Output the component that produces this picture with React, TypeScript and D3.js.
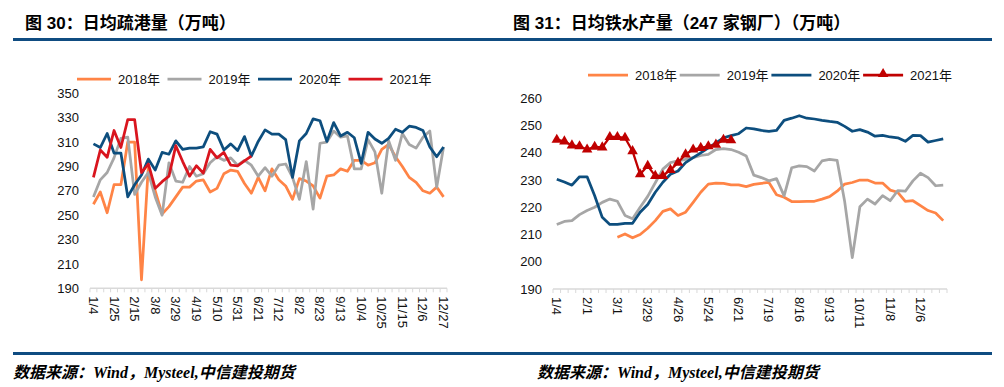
import React, { useEffect, useRef } from 'react';
import * as d3 from 'd3';

// weekly categories (2021 calendar)
const weeks = ['1/4','1/11','1/18','1/25','2/1','2/8','2/15','2/22','3/1','3/8','3/15','3/22','3/29','4/5','4/12','4/19','4/26','5/3','5/10','5/17','5/24','5/31','6/7','6/14','6/21','6/28','7/5','7/12','7/19','7/26','8/2','8/9','8/16','8/23','8/30','9/6','9/13','9/20','9/27','10/4','10/11','10/18','10/25','11/1','11/8','11/15','11/22','11/29','12/6','12/13','12/20','12/27'];

const portTickLabels = ['1/4','1/25','2/15','3/8','3/29','4/19','5/10','5/31','6/21','7/12','8/2','8/23','9/13','10/4','10/25','11/15','12/6','12/27'];
const ironTickLabels = ['1/4','2/1','3/1','3/29','4/26','5/24','6/21','7/19','8/16','9/13','10/11','11/8','12/6'];

const portYTicks = [190, 210, 230, 250, 270, 290, 310, 330, 350];
const ironYTicks = [190, 200, 210, 220, 230, 240, 250, 260];

const seriesNames = ['2018年', '2019年', '2020年', '2021年'];

// 图30 日均疏港量
const port2018 = [259,269,252,275,275,310,310,197,290,270,251,257,265,273,273,278,279,269,272,284,287,286,276,268,281,270,288,279,274,263,280,278,274,264,282,283,288,286,295,295,291,293,304,308,298,290,281,277,270,268,273,265];
const port2019 = [265,279,285,297,313,314,267,277,285,265,250,293,278,277,290,282,284,293,298,295,297,291,295,291,282,289,282,291,292,281,263,294,255,309,310,319,314,315,288,288,312,302,268,311,295,317,308,305,314,319,273,306];
const port2020 = [308.5,305.5,317,301,301,265,275,283,296,287,301.5,300,311,304,305,305,306,318.5,316.5,303.5,308.5,303,314.5,298.5,310.5,320,316.5,316.5,312,281,311,317,329,327.5,310.5,326,315,318,313.5,292.5,318,312.5,309,313,320.5,318,323,322,319.5,306,298,306];
const port2021 = [281,303.5,297.5,319.5,305.5,328.5,328.5,285,292,272,277.5,282,307,294,282,290.5,284.5,304,297,301.5,291,290.5,294.5,298.5];

// 图31 日均铁水产量（247家钢厂）
const iron2018 = [null,null,null,null,null,null,null,null,209,210.2,208.8,210,212.3,215.1,218.5,219.4,217,218.2,221.8,225.5,228.5,228.9,228.8,228.2,228.2,227.6,228.4,228.8,229.1,224.6,223.7,222.1,222.1,222.2,222.2,223,223.9,225.9,228.5,229.1,230,230,228.9,228.9,226.3,225.5,222.2,222.4,220.6,218.8,217.9,215.1];
const iron2019 = [213.7,214.8,215.1,217.3,218.8,220,221.8,223,222.2,217,215.8,220,224,229,234,236.4,237,237.6,238.2,239,239.4,241.2,241.5,241.2,240.2,238.8,231.8,230.9,229.7,230.5,224.2,234.5,235.2,234.9,233.3,237,237.6,237.2,222,201.5,220.2,223,221.2,224.3,222.4,226.1,225.9,229.7,232.5,230.9,227.9,228.1];
const iron2020 = [230.3,229.3,228.1,231.2,231.2,224.2,216.3,213.7,213.7,214.1,214.1,218.2,221,225.5,229.2,232.1,233.3,236.4,238.2,240,241.8,243.6,245.5,246.3,247,249.1,248.8,248.2,247.9,248.2,251.9,252.7,253.6,252.7,252.4,251.9,251.5,251.2,249.7,247.9,248.5,247.6,246.1,246.4,245.8,245.5,244.2,246.4,246.3,243.9,244.5,245.1];
const iron2021 = [244.8,244.2,242.7,242.4,241.2,242.2,242,245.8,245.8,245.5,240.6,232.1,235.2,231.5,231.5,233.7,236.4,239.4,241.2,241.8,242.4,243,244.8,244.6];

const FONT = '"Liberation Sans", Arial, "Noto Sans CJK SC", sans-serif';
const ORANGE = '#FF8446';
const GRAY = '#A6A6A6';
const BLUE = '#0D4E7E';

const charts = [
  {
    title: '图 30：日均疏港量（万吨）',
    titleX: 25,
    left: 90, right: 447, top: 93.3, bottom: 288.3,
    yDomain: [190, 350], yTicks: portYTicks, xTicks: portTickLabels,
    legendX: 77, legendY: 79, legendStep: 90.5, legendLine: 34,
    series: [
      { data: port2018, color: ORANGE },
      { data: port2019, color: GRAY },
      { data: port2020, color: BLUE },
      { data: port2021, color: '#D9151E' },
    ],
    markers: false,
    footerX: 13,
  },
  {
    title: '图 31：日均铁水产量（247 家钢厂）（万吨）',
    titleX: 513,
    left: 553, right: 947, top: 98.3, bottom: 289,
    yDomain: [190, 260], yTicks: ironYTicks, xTicks: ironTickLabels,
    legendX: 588, legendY: 75, legendStep: 91.7, legendLine: 40,
    series: [
      { data: iron2018, color: ORANGE },
      { data: iron2019, color: GRAY },
      { data: iron2020, color: BLUE },
      { data: iron2021, color: '#C00000' },
    ],
    markers: true,
    footerX: 537,
  },
];

const App = () => {
  const svgRef = useRef(null);

  useEffect(() => {
    const svg = d3.select(svgRef.current);
    svg.selectAll('*').remove();

    // header / footer rules
    svg.append('line').attr('x1', 13).attr('x2', 992).attr('y1', 39.5).attr('y2', 39.5)
      .attr('stroke', '#0F4C81').attr('stroke-width', 3);
    svg.append('line').attr('x1', 13).attr('x2', 992).attr('y1', 353.5).attr('y2', 353.5)
      .attr('stroke', '#0F4C81').attr('stroke-width', 3);

    charts.forEach(c => {
      const g = svg.append('g');

      g.append('text')
        .attr('x', c.titleX).attr('y', 23)
        .attr('dominant-baseline', 'central')
        .attr('font-family', FONT).attr('font-weight', 700).attr('font-size', 17)
        .attr('fill', '#000')
        .text(c.title);

      g.append('text')
        .attr('x', c.footerX).attr('y', 372)
        .attr('dominant-baseline', 'central')
        .attr('font-family', '"Liberation Serif", "Noto Sans CJK SC", serif')
        .attr('font-weight', 700).attr('font-style', 'italic').attr('font-size', 16)
        .attr('fill', '#000')
        .text('数据来源：Wind，Mysteel,中信建投期货');

      const x = d3.scaleBand().domain(weeks).range([c.left, c.right]).paddingInner(0).paddingOuter(0);
      const cx = d => x(d) + x.bandwidth() / 2;
      const y = d3.scaleLinear().domain(c.yDomain).range([c.bottom, c.top]);

      // y axis labels
      const yAxis = d3.axisLeft(y).tickValues(c.yTicks).tickSize(0).tickPadding(11);
      const ya = g.append('g').attr('transform', `translate(${c.left},0)`).call(yAxis);
      ya.select('.domain').remove();
      ya.selectAll('text').attr('font-family', FONT).attr('font-size', 13).attr('fill', '#111');

      // x axis line + category ticks
      g.append('line').attr('x1', c.left).attr('x2', c.right)
        .attr('y1', c.bottom).attr('y2', c.bottom)
        .attr('stroke', '#D9D9D9').attr('stroke-width', 1.5);
      g.selectAll('.cat-tick')
        .data(d3.range(weeks.length + 1))
        .join('line')
        .attr('x1', i => c.left + i * x.step()).attr('x2', i => c.left + i * x.step())
        .attr('y1', c.bottom).attr('y2', c.bottom + 4)
        .attr('stroke', '#D9D9D9').attr('stroke-width', 1);

      g.selectAll('.x-label')
        .data(c.xTicks)
        .join('text')
        .attr('transform', d => `translate(${cx(d) - 4.5},${c.bottom + 8}) rotate(90)`)
        .attr('font-family', FONT).attr('font-size', 13).attr('fill', '#111')
        .attr('text-anchor', 'start')
        .text(d => d);

      const line = d3.line()
        .defined(d => d != null)
        .x((d, i) => cx(weeks[i]))
        .y(d => y(d));

      c.series.forEach((s, si) => {
        const isMarker = c.markers && si === 3;
        g.append('path')
          .datum(s.data)
          .attr('d', line)
          .attr('fill', 'none')
          .attr('stroke', s.color)
          .attr('stroke-width', isMarker ? 2.25 : 2.75)
          .attr('stroke-linejoin', 'round');
        if (isMarker) {
          g.selectAll('.tri')
            .data(s.data)
            .join('path')
            .attr('transform', (d, i) => `translate(${cx(weeks[i])},${y(d)})`)
            .attr('d', d3.symbol().type(d3.symbolTriangle).size(48))
            .attr('fill', s.color);
        }
      });

      // legend
      seriesNames.forEach((name, i) => {
        const lx = c.legendX + i * c.legendStep;
        const s = c.series[i];
        g.append('line')
          .attr('x1', lx).attr('x2', lx + c.legendLine)
          .attr('y1', c.legendY).attr('y2', c.legendY)
          .attr('stroke', s.color).attr('stroke-width', 2.75);
        if (c.markers && i === 3) {
          g.append('path')
            .attr('transform', `translate(${lx + c.legendLine / 2},${c.legendY - 1})`)
            .attr('d', d3.symbol().type(d3.symbolTriangle).size(48))
            .attr('fill', s.color);
        }
        g.append('text')
          .attr('x', lx + c.legendLine + 7).attr('y', c.legendY)
          .attr('dominant-baseline', 'central')
          .attr('font-family', FONT).attr('font-size', 13).attr('fill', '#111')
          .text(name);
      });
    });
  }, []);

  return (
    <div style={{ position: 'absolute', left: 0, top: 0, width: 1004, height: 387, background: '#fff' }}>
      <svg ref={svgRef} width={1004} height={387} style={{ display: 'block' }} />
    </div>
  );
};

export default App;
